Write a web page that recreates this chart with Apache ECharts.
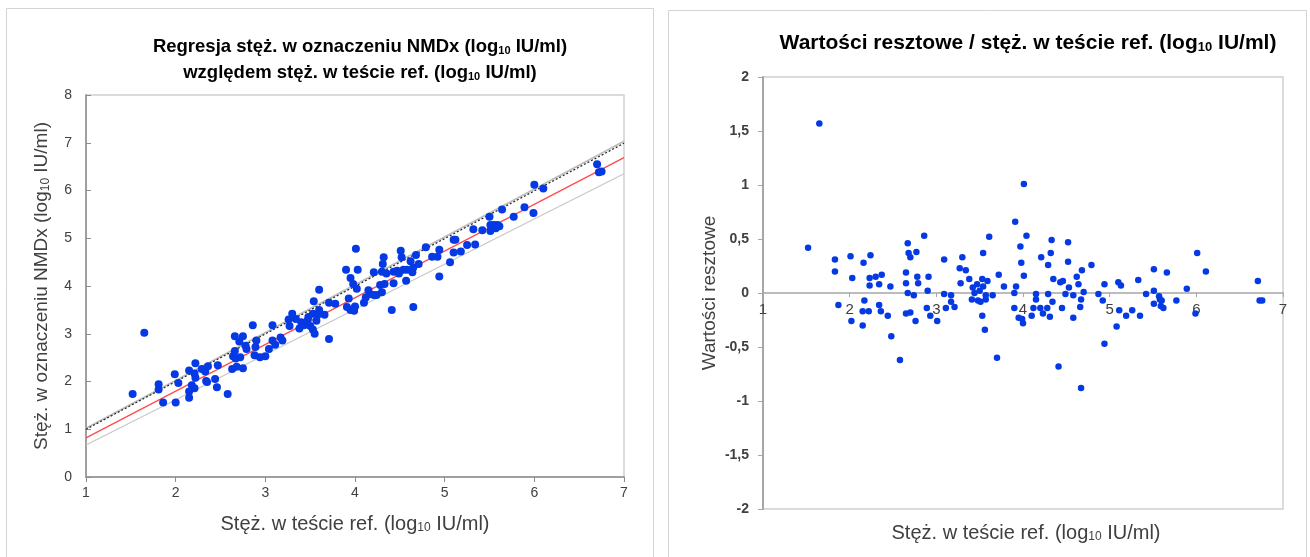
<!DOCTYPE html>
<html>
<head>
<meta charset="utf-8">
<script src="https://cdn.jsdelivr.net/npm/echarts@6/dist/echarts.min.js"></script>
<style>
html,body{margin:0;padding:0;background:#fff;}
#chart{width:1310px;height:557px;}
</style>
</head>
<body>
<div id="chart"></div>
<script>
// ---------- DATA ----------
// Left: regression scatter (x = ref test conc, y = NMDx conc), log10 IU/ml
const refConc = [1.52,1.65,1.81,1.81,1.86,1.99,2.03,2.00,2.15,2.15,2.15,2.18,2.21,2.22,2.21,2.22,2.29,2.33,2.36,2.34,
  2.35,2.44,2.46,2.47,2.58,2.63,2.66,2.66,2.64,2.67,2.68,2.71,2.75,2.72,2.75,2.78,2.79,2.86,2.90,2.89,
  2.88,2.94,3.00,3.04,3.08,3.08,3.11,3.17,3.19,3.26,3.27,3.30,3.34,3.38,3.40,3.43,3.47,3.48,3.50,3.53,
  3.54,3.53,3.55,3.57,3.58,3.60,3.60,3.66,3.71,3.71,3.78,3.90,3.91,3.93,3.95,3.98,3.95,3.99,4.00,4.01,
  4.03,4.02,4.10,4.12,4.15,4.16,4.21,4.21,4.24,4.28,4.30,4.31,4.32,4.30,4.33,4.35,4.41,4.43,4.43,4.47,
  4.49,4.51,4.52,4.54,4.57,4.58,4.62,4.64,4.65,4.65,4.68,4.71,4.79,4.86,4.92,4.94,4.94,5.06,5.10,5.12,
  5.10,5.18,5.25,5.32,5.34,5.42,5.50,5.51,5.51,5.55,5.57,5.59,5.61,5.64,5.77,5.89,5.99,6.00,6.10,6.70,
  6.72,6.75];
const nmdxConc = [1.74,3.02,1.94,1.83,1.56,2.15,1.97,1.56,2.23,1.79,1.66,1.92,1.86,2.38,2.17,2.08,2.26,2.21,2.32,2.01,
  1.99,2.05,1.88,2.34,1.74,2.26,2.95,2.64,2.53,2.48,2.31,2.84,2.95,2.51,2.28,2.75,2.68,3.18,2.86,2.72,
  2.55,2.51,2.53,2.68,3.18,2.86,2.77,2.92,2.86,3.30,3.16,3.42,3.31,3.11,3.24,3.18,3.27,3.35,3.16,3.42,
  3.68,3.09,3.00,3.27,3.39,3.50,3.92,3.40,3.65,2.89,3.63,4.34,3.56,3.74,4.17,4.04,3.50,3.48,3.57,4.78,
  4.34,3.94,3.65,3.76,3.91,3.83,4.29,3.81,3.81,4.02,4.30,4.46,4.60,3.87,4.04,4.26,3.50,4.30,4.06,4.32,
  4.26,4.74,4.60,4.34,4.11,4.34,4.52,4.29,4.39,3.56,4.65,4.46,4.81,4.61,4.61,4.76,4.20,4.50,4.97,4.97,
  4.70,4.72,4.86,5.19,4.87,5.17,5.45,5.28,5.15,5.28,5.21,5.28,5.25,5.60,5.45,5.65,5.53,6.12,6.04,6.55,
  6.38,6.40];
// Reference / fitted lines (endpoints at x = 1 and x = 7)
const identityLine = [[1, 1.00], [7, 6.99]];
const upperGrayLine = [[1, 1.02], [7, 7.03]];
const regressionLine = [[1, 0.82], [7, 6.69]];
const lowerGrayLine = [[1, 0.67], [7, 6.35]];

// Right: residuals vs ref test conc
const residX = [1.52,1.65,1.83,1.83,1.87,2.01,2.03,2.02,2.16,2.17,2.15,2.15,2.22,2.24,2.23,2.23,2.30,2.37,2.34,2.34,
  2.36,2.44,2.47,2.48,2.58,2.67,2.68,2.70,2.65,2.65,2.67,2.65,2.70,2.74,2.76,2.77,2.78,2.79,2.86,2.91,
  2.90,2.89,2.93,3.01,3.09,3.09,3.11,3.17,3.17,3.21,3.27,3.30,3.34,3.28,3.38,3.41,3.42,3.44,3.47,3.48,
  3.50,3.51,3.54,3.53,3.54,3.53,3.56,3.57,3.57,3.59,3.61,3.65,3.72,3.70,3.78,3.91,3.90,3.92,3.90,3.95,
  3.97,3.98,4.01,4.04,4.01,3.99,4.00,4.10,4.12,4.15,4.15,4.21,4.20,4.23,4.28,4.29,4.29,4.32,4.33,4.31,
  4.34,4.35,4.41,4.43,4.45,4.46,4.49,4.52,4.52,4.53,4.58,4.58,4.62,4.64,4.66,4.67,4.68,4.70,4.67,4.79,
  4.87,4.92,4.94,4.94,5.08,5.10,5.13,5.11,5.19,5.26,5.33,5.35,5.42,5.51,5.51,5.51,5.57,5.58,5.59,5.60,
  5.62,5.66,5.77,5.89,6.01,5.99,6.11,6.71,6.73,6.76];
const residY = [0.42,1.57,0.31,0.20,-0.11,0.34,0.14,-0.26,0.28,-0.07,-0.17,-0.30,-0.17,0.35,0.14,0.07,0.15,0.17,0.08,-0.11,
  -0.17,-0.21,0.06,-0.40,-0.62,0.46,0.37,0.33,0.19,0.09,0.00,-0.19,-0.18,-0.02,-0.26,0.38,0.15,0.09,0.53,0.15,
  0.02,-0.14,-0.21,-0.26,0.31,-0.01,-0.14,-0.02,-0.08,-0.13,0.23,0.33,0.21,0.09,0.13,-0.06,0.05,0.00,0.08,-0.07,
  0.02,-0.08,0.37,0.13,0.06,-0.21,-0.34,-0.02,-0.06,0.11,0.52,-0.02,0.17,-0.60,0.06,0.66,0.00,0.06,-0.14,-0.23,
  0.43,0.28,1.01,0.53,0.16,-0.24,-0.28,-0.21,-0.14,-0.01,-0.06,0.33,-0.14,-0.19,-0.14,0.26,-0.01,0.37,0.49,-0.22,
  -0.08,0.13,-0.68,0.10,-0.14,0.11,-0.01,0.47,0.29,0.05,-0.23,-0.02,0.15,0.08,-0.13,-0.06,0.21,0.01,-0.88,0.26,
  -0.01,-0.07,0.08,-0.47,-0.31,0.10,0.07,-0.16,-0.21,-0.16,0.12,-0.21,-0.01,0.22,0.02,-0.10,-0.03,-0.06,-0.12,-0.07,
  -0.14,0.19,-0.07,0.04,0.37,-0.19,0.20,0.11,-0.07,-0.07];

const leftXTicks = [1, 7, 1];      // min, max, interval
const leftYTicks = [0, 8, 1];
const rightXTicks = [1, 7, 1];
const rightYTicks = [-2, 2, 0.5];

// ---------- CHART ----------
const FONT = 'Liberation Sans, Arial, sans-serif';
const BLUE = '#0539e3';
const AXIS_DARK = '#8c8c8c';
const TXT = '#404040';
const subRich = (size, bold, lh) => ({
  t: { fontSize: size, fontWeight: bold ? 'bold' : 'normal', color: bold ? '#000' : TXT, fontFamily: FONT, lineHeight: lh },
  s: { fontSize: Math.round(size * 0.62), fontWeight: bold ? 'bold' : 'normal', color: bold ? '#000' : TXT,
       fontFamily: FONT, verticalAlign: 'middle', lineHeight: 8, padding: [Math.round(size * 0.42), 0, 0, 0] }
});
const zip = (a, b) => a.map((v, i) => [v, b[i]]);

const chart = echarts.init(document.getElementById('chart'), null, { renderer: 'canvas' });

const option = {
  animation: false,
  backgroundColor: '#fff',
  textStyle: { fontFamily: FONT },
  graphic: [
    { type: 'rect', shape: { x: 6.5, y: 8.5, width: 647, height: 560 }, style: { fill: 'none', stroke: '#d4d4d4', lineWidth: 1 }, silent: true, z: -10 },
    { type: 'rect', shape: { x: 668.5, y: 10.5, width: 638, height: 560 }, style: { fill: 'none', stroke: '#d4d4d4', lineWidth: 1 }, silent: true, z: -10 }
  ],
  title: [
    {
      text: '{t|Regresja stęż. w oznaczeniu NMDx (log}{s|10}{t| IU/ml)}\n{t|względem stęż. w teście ref. (log}{s|10}{t| IU/ml)}',
      left: 355, top: 29, textAlign: 'center',
      textStyle: { rich: subRich(18.5, true, 26) }
    },
    {
      text: '{t|Wartości resztowe / stęż. w teście ref. (log}{s|10}{t| IU/ml)}',
      left: 1023, top: 25, textAlign: 'center',
      textStyle: { rich: subRich(21, true, 26) }
    },
    {
      text: '{t|Stęż. w teście ref. (log}{s|10}{t| IU/ml)}',
      left: 1021, top: 515, textAlign: 'center',
      textStyle: { rich: subRich(20, false, 26) }
    }
  ],
  grid: [
    { left: 86, top: 95, width: 538, height: 382, show: true, borderColor: '#d0d0d0', borderWidth: 1.5, backgroundColor: '#fff' },
    { left: 763, top: 77, width: 520, height: 432, show: true, borderColor: '#d0d0d0', borderWidth: 1.5, backgroundColor: '#fff' }
  ],
  xAxis: [
    {
      type: 'value', gridIndex: 0, min: leftXTicks[0], max: leftXTicks[1], interval: leftXTicks[2],
      axisLine: { show: true, lineStyle: { color: AXIS_DARK, width: 1.5 } },
      axisTick: { show: true, length: 5, lineStyle: { color: AXIS_DARK } },
      axisLabel: { color: TXT, fontSize: 14, margin: 9, fontFamily: FONT },
      splitLine: { show: false },
      name: '{t|Stęż. w teście ref. (log}{s|10}{t| IU/ml)}',
      nameLocation: 'middle', nameGap: 35,
      nameTextStyle: { rich: subRich(20, false, 24) }
    },
    {
      type: 'value', gridIndex: 1, min: rightXTicks[0], max: rightXTicks[1], interval: rightXTicks[2],
      offset: -216,
      axisLine: { show: true, onZero: false, lineStyle: { color: '#a6a6a6', width: 1.5 } },
      axisTick: { show: true, length: 4, lineStyle: { color: '#a6a6a6' } },
      axisLabel: { color: TXT, fontSize: 15, margin: 9, fontFamily: FONT },
      splitLine: { show: false }
    }
  ],
  yAxis: [
    {
      type: 'value', gridIndex: 0, min: leftYTicks[0], max: leftYTicks[1], interval: leftYTicks[2],
      axisLine: { show: true, lineStyle: { color: AXIS_DARK, width: 1.5 } },
      axisTick: { show: true, inside: true, length: 5, lineStyle: { color: AXIS_DARK } },
      axisLabel: { color: TXT, fontSize: 14, margin: 14, fontFamily: FONT },
      splitLine: { show: false },
      name: '{t|Stęż. w oznaczeniu NMDx (log}{s|10}{t| IU/ml)}',
      nameLocation: 'middle', nameGap: 32, nameRotate: 90,
      nameTextStyle: { rich: subRich(19, false, 24) }
    },
    {
      type: 'value', gridIndex: 1, min: rightYTicks[0], max: rightYTicks[1], interval: rightYTicks[2],
      axisLine: { show: true, lineStyle: { color: '#a6a6a6', width: 2 } },
      axisTick: { show: true, length: 5, lineStyle: { color: '#a6a6a6' } },
      axisLabel: { color: TXT, fontSize: 14, fontWeight: 'bold', margin: 14, fontFamily: FONT,
        formatter: v => String(v).replace('.', ',') },
      splitLine: { show: false },
      name: 'Wartości resztowe',
      nameLocation: 'middle', nameGap: 44, nameRotate: 90,
      nameTextStyle: { color: TXT, fontSize: 19, fontFamily: FONT }
    }
  ],
  series: [
    { type: 'line', xAxisIndex: 0, yAxisIndex: 0, data: lowerGrayLine, symbol: 'none', lineStyle: { color: '#c8c8c8', width: 1.3 }, z: 1 },
    { type: 'line', xAxisIndex: 0, yAxisIndex: 0, data: upperGrayLine, symbol: 'none', lineStyle: { color: '#bdbdbd', width: 1.8 }, z: 1 },
    { type: 'line', xAxisIndex: 0, yAxisIndex: 0, data: identityLine, symbol: 'none', lineStyle: { color: '#222', width: 1.2, type: [2, 2] }, z: 2 },
    { type: 'line', xAxisIndex: 0, yAxisIndex: 0, data: regressionLine, symbol: 'none', lineStyle: { color: '#ff4b4b', width: 1.3 }, z: 2 },
    { type: 'scatter', xAxisIndex: 0, yAxisIndex: 0, data: zip(refConc, nmdxConc), symbolSize: 8, itemStyle: { color: BLUE, opacity: 1 }, z: 5 },
    { type: 'scatter', xAxisIndex: 1, yAxisIndex: 1, data: zip(residX, residY), symbolSize: 6.5, itemStyle: { color: BLUE, opacity: 1 }, z: 5 }
  ]
};
chart.setOption(option);
</script>
</body>
</html>
